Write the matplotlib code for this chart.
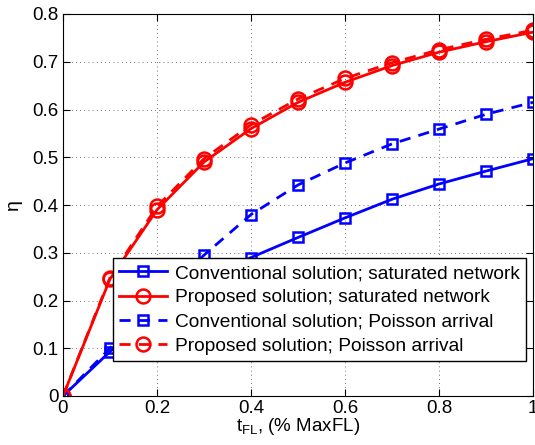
import matplotlib
matplotlib.use('Agg')
import matplotlib.pyplot as plt

plt.rcParams['font.family'] = ['Liberation Sans', 'DejaVu Sans']
plt.rcParams['mathtext.fontset'] = 'custom'
plt.rcParams['mathtext.rm'] = 'Liberation Sans'
plt.rcParams['mathtext.it'] = 'Liberation Sans:italic'

# t_FL as fraction of MaxFL
t_fl = [0, 0.1, 0.2, 0.3, 0.4, 0.5, 0.6, 0.7, 0.8, 0.9, 1.0]

conv_sat = [0, 0.093, 0.175, 0.24, 0.29, 0.332, 0.373, 0.412, 0.444, 0.471, 0.497]
prop_sat = [0, 0.245, 0.39, 0.49, 0.56, 0.615, 0.657, 0.692, 0.72, 0.742, 0.762]
conv_poi = [0, 0.1, 0.2, 0.295, 0.38, 0.442, 0.488, 0.528, 0.559, 0.59, 0.615]
prop_poi = [0, 0.248, 0.397, 0.497, 0.568, 0.622, 0.665, 0.698, 0.725, 0.747, 0.766]

labels = ['Conventional solution; saturated network',
          'Proposed solution; saturated network',
          'Conventional solution; Poisson arrival',
          'Proposed solution; Poisson arrival']

BLUE = '#0000ff'
RED = '#ff0000'

fig = plt.figure(figsize=(5.35, 4.45), dpi=100)
ax = fig.add_axes([63 / 535, 49 / 445, 470 / 535, 382 / 445])

ax.plot(t_fl, conv_sat, '-', color=BLUE, lw=2, marker='s', ms=7, mfc='none',
        mew=1.8, label=labels[0])
ax.plot(t_fl, prop_sat, '-', color=RED, lw=2, marker='o', ms=10, mfc='none',
        mew=1.8, label=labels[1])
ax.plot(t_fl, conv_poi, '--', color=BLUE, lw=2, marker='s', ms=7, mfc='none',
        mew=1.8, dashes=(4, 3), label=labels[2])
ax.plot(t_fl, prop_poi, '--', color=RED, lw=2, marker='o', ms=10, mfc='none',
        mew=1.8, dashes=(4, 3), label=labels[3])

ax.set_xlim(0, 1)
ax.set_ylim(0, 0.8)
ax.set_xticks([0, 0.2, 0.4, 0.6, 0.8, 1])
ax.set_xticklabels(['0', '0.2', '0.4', '0.6', '0.8', '1'])
ax.set_yticks([0, 0.1, 0.2, 0.3, 0.4, 0.5, 0.6, 0.7, 0.8])
ax.set_yticklabels(['0', '0.1', '0.2', '0.3', '0.4', '0.5', '0.6', '0.7', '0.8'])
ax.tick_params(direction='in', top=True, right=True, labelsize=13.5, length=5,
               pad=3)
ax.grid(True, color='#444444', linestyle=(0, (1, 4)), linewidth=0.6)

ax.set_xlabel(r'$\mathregular{t_{FL}}$, (% MaxFL)', fontsize=13.5, labelpad=-1)
ax.set_ylabel('η', fontsize=14, labelpad=8)

leg = ax.legend(loc='upper left', bbox_to_anchor=(0.106, 0.36), fontsize=13.8,
                frameon=True, fancybox=False, edgecolor='black', framealpha=1,
                handlelength=2.5, borderpad=0.32, labelspacing=0.36,
                handletextpad=0.4, borderaxespad=0)
leg.get_frame().set_linewidth(1.0)

fig.savefig('out.png', dpi=100)
